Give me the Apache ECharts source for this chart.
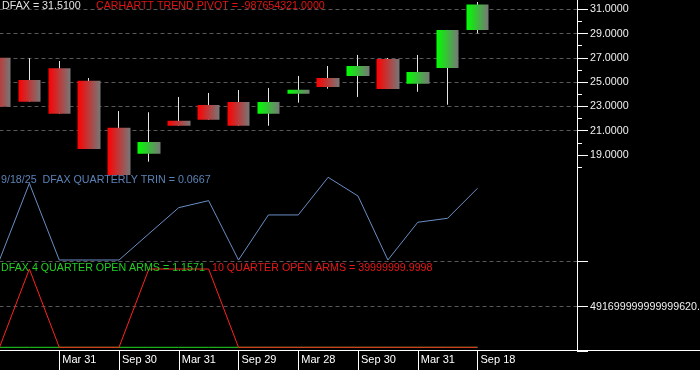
<!DOCTYPE html>
<html><head><meta charset="utf-8">
<script src="https://cdn.jsdelivr.net/npm/echarts@6/dist/echarts.min.js"></script>
<style>html,body{margin:0;padding:0;background:#000;}#c{width:700px;height:370px;}</style>
</head><body><div id="c"></div>
<script>
// ---- data ----
const dateLabels = ['', '', 'Mar 31', '', 'Sep 30', '', 'Mar 31', '', 'Sep 29', '', 'Mar 28', '', 'Sep 30', '', 'Mar 31', '', 'Sep 18'];
const opens  = [27.01, 25.18, 26.14, 25.12, 21.25, 19.11, 21.82, 23.12, 23.36, 22.40, 24.05, 25.34, 25.51, 26.91, 24.87, 26.16, 29.29];
const closes = [22.98, 23.39, 22.40, 19.49, 17.35, 20.07, 21.41, 21.91, 21.41, 23.36, 24.38, 24.60, 26.33, 24.43, 25.84, 29.29, 31.40];
const lows   = [22.98, 23.39, 22.40, 19.49, 17.35, 18.45, 21.41, 21.91, 21.41, 21.41, 23.31, 24.46, 23.78, 24.43, 24.21, 23.14, 29.02];
const highs  = [27.24, 26.96, 26.74, 25.34, 22.62, 22.52, 23.78, 24.11, 24.35, 24.52, 25.51, 26.33, 27.24, 26.99, 27.24, 29.30, 31.60];
const trin   = [0, 0.0713, 0, 0, 0, 0.0244, 0.0487, 0.0552, 0, 0.0419, 0.0419, 0.0769, 0.0595, 0, 0.0351, 0.0388, 0.0667];
const arms4  = [0, 0, 0, 0, 0, 0, 0, 0, 0, 0, 0, 0, 0, 0, 0, 0, 1.1571];
const arms10 = [0, 9.48e17, 0, 0, 0, 9.48e17, 9.48e17, 9.48e17, 0, 0, 0, 0, 0, 0, 0, 0, 39999999.9998];
const priceTicks = [19, 21, 23, 25, 27, 29, 31];
const armsTickValue = 4.917e17;
const armsTickLabel = '491699999999999620.0000';
const titles = {
  price: 'DFAX = 31.5100',
  pivot: 'CARHARTT TREND PIVOT = -987654321.0000',
  trin: '9/18/25  DFAX QUARTERLY TRIN = 0.0667',
  arms4: 'DFAX 4 QUARTER OPEN ARMS = 1.1571',
  arms10: '10 QUARTER OPEN ARMS = 39999999.9998'
};

// ---- build ----
const FONT = 'Liberation Sans, Arial, sans-serif';
const candleData = opens.map((o, i) => [i, o, closes[i], lows[i], highs[i]]);
const pairs = arr => arr.map((v, i) => [i, v]);
const xMax = 577.5 / 29.875;
const dateCats = dateLabels.concat(new Array(25 - dateLabels.length).fill(''));
const armsInterval = 5.45e17;
const armsMin = armsTickValue - armsInterval;
const armsMax = armsTickValue + armsInterval;
const grad = c => new echarts.graphic.LinearGradient(0, 0, 1, 0, [{offset: 0, color: c}, {offset: 1, color: '#777777'}]);
const dash = {show: true, lineStyle: {color: '#585858', type: [4, 3], width: 1}};
const hiddenParts = {axisLine: {show: false, onZero: false}, axisTick: {show: false}, axisLabel: {show: false}, splitLine: {show: false}};
const hiddenX = g => Object.assign({type: 'value', gridIndex: g, min: 0, max: xMax}, hiddenParts);
const txt = (text, left, top, color) => ({text, left, top, padding: 0,
  textStyle: {color, fontSize: 10.7, fontWeight: 'normal', fontFamily: FONT}});
const gridBase = {outerBoundsMode: 'none', containLabel: false, show: false};

const chart = echarts.init(document.getElementById('c'), null, {renderer: 'canvas'});
const step = (name, opt) => {
  try { chart.setOption(opt); }
  catch (e) { console.error('FAILED ' + name + ': ' + e.message); }
};
step('base', {
  backgroundColor: '#000',
  animation: false,
  title: [
    txt(titles.price, 2, 1, '#e4e4e4'),
    txt(titles.pivot, 96, 1, '#e01414'),
    txt(titles.trin, 1, 175, '#5b82b6'),
    txt(titles.arms4, 1, 263, '#22d022'),
    txt(titles.arms10, 212, 263, '#e81818')
  ],
  grid: [
    Object.assign({left: -0.5, width: 577.5, top: -15, height: 194.3}, gridBase),
    Object.assign({left: -0.5, width: 577.5, top: 170, height: 92}, gridBase),
    Object.assign({left: -0.5, width: 577.5, top: 261.7, height: 90}, gridBase),
    Object.assign({left: -0.5, width: 717, top: 340, height: 10}, gridBase)
  ],
  xAxis: [
    hiddenX(0), hiddenX(1), hiddenX(2),
    {type: 'category', gridIndex: 3, data: dateCats, boundaryGap: false, position: 'bottom',
     axisLine: {show: true, onZero: false, lineStyle: {color: '#ffffff', width: 1}},
     axisTick: {show: true, length: 20, interval: (i, v) => v !== '', lineStyle: {color: '#ffffff'}},
     axisLabel: {show: true, interval: (i, v) => v !== '', color: '#ffffff', fontSize: 11, fontFamily: FONT,
                 align: 'left', margin: 4, padding: [0, 0, 0, 3]},
     splitLine: {show: false}}
  ],
  yAxis: [
    {type: 'value', gridIndex: 0, position: 'right', min: 17, max: 33, interval: 2,
     axisLine: {show: true, onZero: false, lineStyle: {color: '#ffffff', width: 1}},
     axisTick: {show: true, length: 11, lineStyle: {color: '#ffffff'}},
     minorTick: {show: true, splitNumber: 2, length: 5, lineStyle: {color: '#ffffff'}},
     axisLabel: {show: true, margin: 13, color: '#f0f0f0', fontSize: 10.7, fontFamily: FONT,
                 formatter: v => priceTicks.some(t => Math.abs(t - v) < 1e-6) ? v.toFixed(4) : ''},
     splitLine: Object.assign({showMinLine: false}, dash)},
    {type: 'value', gridIndex: 1, position: 'right', min: -0.00186, max: 0.0837,
     axisLine: {show: true, onZero: false, lineStyle: {color: '#ffffff', width: 1}},
     axisTick: {show: false}, axisLabel: {show: false}, splitLine: {show: false}},
    {type: 'value', gridIndex: 2, position: 'right', min: armsMin, max: armsMax, interval: armsInterval,
     axisLine: {show: true, onZero: false, lineStyle: {color: '#ffffff', width: 1}},
     axisTick: {show: true, length: 11, lineStyle: {color: '#ffffff'}},
     axisLabel: {show: true, margin: 13, color: '#f0f0f0', fontSize: 10.7, fontFamily: FONT,
                 formatter: (v, i) => i === 1 ? armsTickLabel : ''},
     splitLine: Object.assign({showMinLine: false}, dash)},
    Object.assign({type: 'value', gridIndex: 3, min: 0, max: 1}, hiddenParts)
  ]
});
step('customTicks', {yAxis: [{axisTick: {customValues: priceTicks}}, {}, {}, {}]});

const seriesList = [
  {type: 'candlestick', name: 'wick', xAxisIndex: 0, yAxisIndex: 0, data: candleData, barWidth: 1,
   itemStyle: {color: '#e6e6e6', color0: '#e6e6e6', borderColor: '#e6e6e6', borderColor0: '#e6e6e6', borderWidth: 1},
   silent: true},
  {type: 'candlestick', name: 'DFAX', xAxisIndex: 0, yAxisIndex: 0, data: candleData, barWidth: 23,
   itemStyle: {color: grad('#00ff00'), color0: grad('#ff0000'), borderColor: 'rgba(0,0,0,0)', borderColor0: 'rgba(0,0,0,0)', borderWidth: 0},
   silent: true},
  {type: 'line', name: 'TRIN', xAxisIndex: 1, yAxisIndex: 1, data: pairs(trin), symbol: 'none',
   lineStyle: {color: '#6a8ec4', width: 1}, silent: true},
  {type: 'line', name: 'ARMS4', xAxisIndex: 2, yAxisIndex: 2, data: pairs(arms4), symbol: 'none',
   lineStyle: {color: '#22dd22', width: 1}, silent: true},
  {type: 'line', name: 'ARMS10', xAxisIndex: 2, yAxisIndex: 2, data: pairs(arms10), symbol: 'none',
   lineStyle: {color: '#ff2222', width: 1}, silent: true}
];
step('series', {series: seriesList});
</script></body></html>
